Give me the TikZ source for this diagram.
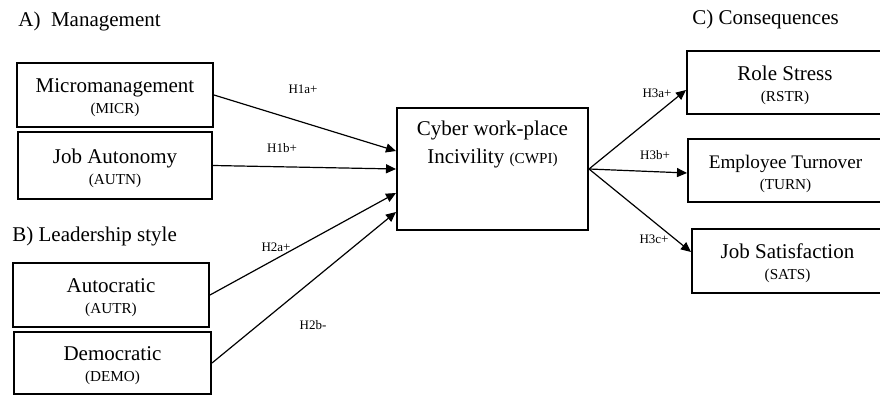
\documentclass[tikz,border=0pt]{standalone}
\usepackage{fontspec}
\setmainfont{Liberation Serif}
\usetikzlibrary{arrows.meta}
\newcommand{\subfont}{\fontsize{7.6}{9}\selectfont}
\newcommand{\varname}[2]{\rule{0pt}{10pt}#1\\[-2pt]{\subfont #2}}
\tikzset{
  varbox/.style={draw, line width=1pt, inner sep=0pt, align=center,
                 font=\fontsize{10.5}{12.6}\selectfont},
  heading/.style={anchor=west, inner sep=0pt, font=\fontsize{10.5}{12.6}\selectfont},
  hlabel/.style={inner sep=0pt, font=\fontsize{6.5}{8}\selectfont},
  arr/.style={-{Triangle[length=5pt,width=4.5pt]}, line width=0.6pt}
}

\begin{document}
\begin{tikzpicture}[x=0.5pt,y=-0.5pt]
\useasboundingbox (0,0) rectangle (880,395);

\node[heading] (hmgmt) at (18,21) {A)\ \ Management};
\node[heading] (hlead) at (12,236) {B) Leadership style};
\node[heading] (hcons) at (692,19) {C) Consequences};

\node[varbox, minimum width=98pt, minimum height=32pt] (micr) at (115,95)
	{\varname{Micromanagement}{(MICR)}};
\node[varbox, minimum width=97pt, minimum height=33.5pt] (autn) at (115,165.5)
	{\varname{Job Autonomy}{(AUTN)}};
\node[varbox, minimum width=98pt, minimum height=32pt] (autr) at (111,295)
	{\varname{Autocratic}{(AUTR)}};
\node[varbox, minimum width=98.5pt, minimum height=31pt] (demo) at (112.5,363)
	{\varname{Democratic}{(DEMO)}};

\node[varbox, minimum width=95.5pt, minimum height=61pt] (cwpi) at (492.5,169)
	{\parbox[c][48pt][t]{90pt}{\centering Cyber work-place\\[1.4pt]
	 Incivility {\subfont (CWPI)}}};

\node[varbox, minimum width=98pt, minimum height=31.5pt] (rstr) at (785,82.5)
	{\varname{Role Stress}{(RSTR)}};
\node[varbox, minimum width=97.5pt, minimum height=31.5pt] (turn) at (785.5,170.5)
	{\varname{{\fontsize{9.6}{12.6}\selectfont Employee Turnover}}{(TURN)}};
\node[varbox, minimum width=95.5pt, minimum height=32pt] (sats) at (787.5,261)
	{\varname{Job Satisfaction}{(SATS)}};

\foreach \src/\shift in {micr/9pt, autn/0pt, autr/-12pt, demo/-21.5pt}
	{\draw[arr] (\src.east) -- ([yshift=\shift]cwpi.west);};
\foreach \dst/\shift in {rstr/-3.75pt, turn/-1.25pt, sats/4.5pt}
	{\draw[arr] (cwpi.east) -- ([yshift=\shift]\dst.west);};

\foreach \name/\txt/\x/\y in {h1a/H1a+/303/89, h1b/H1b+/282/148,
                              h2a/H2a+/276/247, h2b/H2b-/313/325,
                              h3a/H3a+/657/93, h3b/H3b+/655/155,
                              h3c/H3c+/654/239}
	{\node[hlabel] (\name) at (\x, \y) {\txt};};
\end{tikzpicture}
\end{document}
